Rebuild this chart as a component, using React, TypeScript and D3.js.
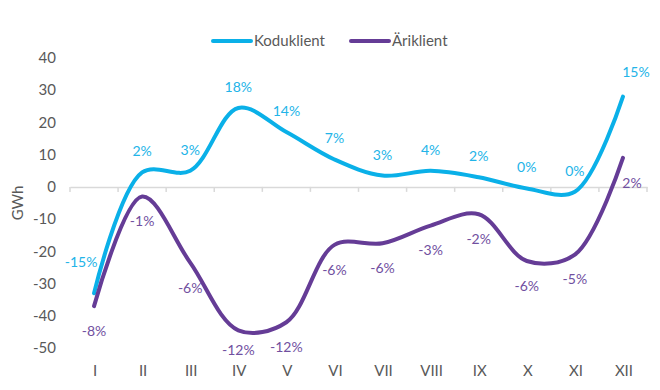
import * as d3 from "d3";
import { useRef, useEffect } from "react";

const months = ["I", "II", "III", "IV", "V", "VI", "VII", "VIII", "IX", "X", "XI", "XII"];
const koduklient = [-33, 4.5, 5, 24.5, 17, 8.5, 3.5, 5, 3, -0.5, -1.5, 28];
const koduklientPct = ["-15%", "2%", "3%", "18%", "14%", "7%", "3%", "4%", "2%", "0%", "0%", "15%"];
const ariklient = [-37, -3, -23.5, -44.5, -42, -18, -17.5, -12, -8.5, -23, -21, 9];
const ariklientPct = ["-8%", "-1%", "-6%", "-12%", "-12%", "-6%", "-6%", "-3%", "-2%", "-6%", "-5%", "2%"];
const yTicks = [40, 30, 20, 10, 0, -10, -20, -30, -40, -50];

const blue = "#0AB0E8";
const purple = "#653C96";
const textGray = "#595959";
const font = "Lato, 'Open Sans', sans-serif";

export default function App() {
    const ref = useRef<SVGSVGElement>(null);

    const width = 660;
    const height = 390;
    const plotLeft = 70;
    const plotRight = 647;
    const plotTop = 58;
    const plotBottom = 348;

    useEffect(() => {
        const svg = d3.select(ref.current);
        svg.selectAll("*").remove();

        const x = d3.scaleBand().domain(months).range([plotLeft, plotRight]).padding(0);
        const cx = (m: string) => (x(m) as number) + x.bandwidth() / 2;
        const y = d3.scaleLinear().domain([-50, 40]).range([plotBottom, plotTop]);

        svg.append("rect").attr("width", width).attr("height", height).attr("fill", "#fff");

        // y tick labels
        svg.append("g")
            .selectAll("text")
            .data(yTicks)
            .join("text")
            .attr("x", 56)
            .attr("y", (d) => y(d))
            .attr("dy", "0.35em")
            .attr("text-anchor", "end")
            .attr("font-family", font)
            .attr("font-size", 15)
            .attr("fill", textGray)
            .text((d) => d);

        svg.append("text")
            .attr("transform", `translate(23,${(plotTop + plotBottom) / 2}) rotate(-90)`)
            .attr("text-anchor", "middle")
            .attr("font-family", font)
            .attr("font-size", 15)
            .attr("fill", textGray)
            .text("GWh");

        // x axis at zero
        const axis = svg.append("g")
            .attr("transform", `translate(0,${y(0)})`)
            .call(d3.axisBottom(x).tickSize(0).tickFormat(() => ""));
        axis.select(".domain").attr("stroke", "#d9d9d9").attr("stroke-width", 1.5);
        axis.selectAll(".tick").remove();
        axis.selectAll("line.sep")
            .data([...months.map((m) => x(m) as number), plotRight])
            .join("line")
            .attr("class", "sep")
            .attr("x1", (d) => d)
            .attr("x2", (d) => d)
            .attr("y1", 0)
            .attr("y2", 5)
            .attr("stroke", "#d9d9d9")
            .attr("stroke-width", 1.5);

        // category labels at the bottom
        svg.append("g")
            .selectAll("text")
            .data(months)
            .join("text")
            .attr("x", (d) => cx(d) + 1)
            .attr("y", 371)
            .attr("dy", "0.35em")
            .attr("text-anchor", "middle")
            .attr("font-family", font)
            .attr("font-size", 15)
            .attr("fill", textGray)
            .text((d) => d);

        const line = d3.line<number>()
            .x((_, i) => cx(months[i]))
            .y((d) => y(d))
            .curve(d3.curveCatmullRom.alpha(0.5));

        const series = [
            { values: koduklient, labels: koduklientPct, color: blue, dy: -21 },
            { values: ariklient, labels: ariklientPct, color: purple, dy: 25 },
        ];

        series.forEach((s) => {
            svg.append("path")
                .datum(s.values)
                .attr("d", line)
                .attr("fill", "none")
                .attr("stroke", s.color)
                .attr("stroke-width", 4)
                .attr("stroke-linecap", "round");
        });

        // data labels; the blue end labels sit off to the side
        const endShift = (i: number, isBlue: boolean) => {
            if (!isBlue) return { dx: i === 11 ? 9 : 0, dy: i === 3 ? -5 : 0 };
            if (i === 0) return { dx: -13, dy: -10 };
            if (i === 11) return { dx: 13, dy: -4 };
            return { dx: 0, dy: 0 };
        };

        series.forEach((s, si) => {
            svg.append("g")
                .selectAll("text")
                .data(s.values)
                .join("text")
                .attr("x", (_, i) => cx(months[i]) + endShift(i, si === 0).dx)
                .attr("y", (d, i) => y(d) + s.dy + endShift(i, si === 0).dy)
                .attr("dy", "0.35em")
                .attr("text-anchor", "middle")
                .attr("font-family", font)
                .attr("font-size", 14)
                .attr("fill", si === 0 ? "#22B4E8" : "#71509F")
                .text((_, i) => s.labels[i]);
        });

        // legend
        const legend = svg.append("g").attr("transform", "translate(213,41)");
        [
            { name: "Koduklient", color: blue, x: 0 },
            { name: "Äriklient", color: purple, x: 138 },
        ].forEach((l) => {
            legend.append("line")
                .attr("x1", l.x)
                .attr("x2", l.x + 38)
                .attr("stroke", l.color)
                .attr("stroke-width", 4)
                .attr("stroke-linecap", "round");
            legend.append("text")
                .attr("x", l.x + 41)
                .attr("dy", "0.35em")
                .attr("font-family", font)
                .attr("font-size", 15)
                .attr("fill", textGray)
                .text(l.name);
        });
    }, []);

    return (
        <div style={{ position: "absolute", left: 0, top: 0 }}>
            <svg ref={ref} width={width} height={height} viewBox={`0 0 ${width} ${height}`}></svg>
        </div>
    );
}
